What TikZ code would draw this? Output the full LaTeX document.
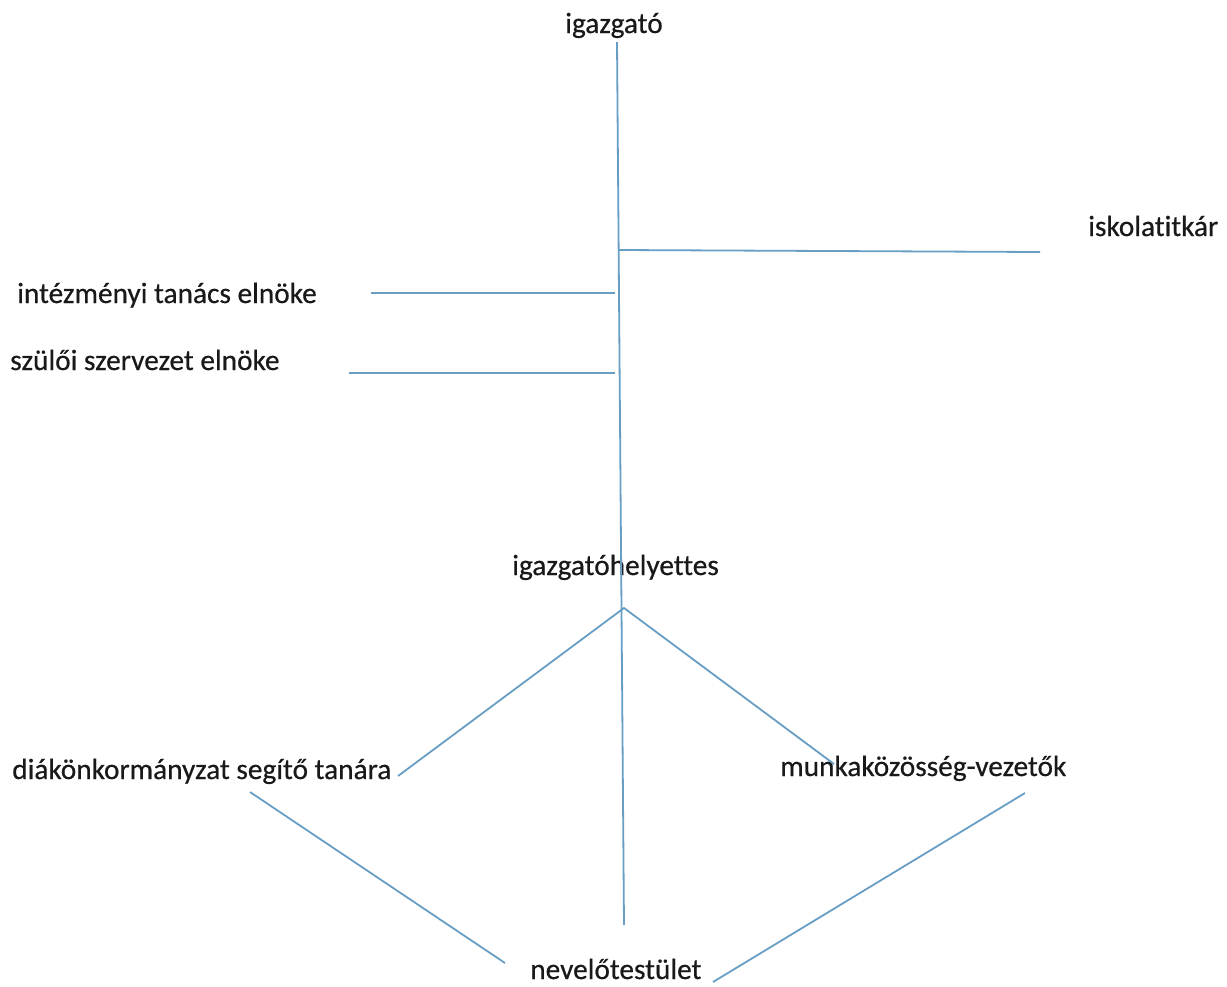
\documentclass[tikz,border=0pt]{standalone}
\usepackage{fontspec}
\setmainfont{Carlito}[Ligatures=NoCommon,FakeBold=0.5]
\definecolor{orgline}{RGB}{104,158,196}
\begin{document}
\begin{tikzpicture}[x=0.75pt,y=-0.75pt,
        role/.style={font=\fontsize{22}{26}\selectfont, text=black!90, inner sep=0pt},
        link/.style={draw=orgline, line width=1.35pt}]
            \useasboundingbox (0,0) rectangle (1227,986);
            % names
            \node[role, anchor=base west] (igazgato) at (565,33) {igazgató};
            \node[role, anchor=base west] (titkar) at (1088,236) {iskolatitkár};
            \node[role, anchor=base west] (tanacs) at (17,303) {intézményi tanács elnöke};
            \node[role, anchor=base west] (szuloi) at (10,370) {szülői szervezet elnöke};
            \node[role, anchor=base west] (helyettes) at (512,575) {igazgatóhelyettes};
            \node[role, anchor=base west] (diak) at (12,779) {diákönkormányzat segítő tanára};
            \node[role, anchor=base west] (munka) at (780,776) {munkaközösség-vezetők};
            \node[role, anchor=base west] (nevelo) at (530,979) {nevelőtestület};
            % line ends
            \coordinate (top) at (617,42);
            \coordinate (bottom) at (624,925);
            \coordinate (tit a) at (619,250);
            \coordinate (tit b) at (1040,252);
            \coordinate (tan a) at (615,293);
            \coordinate (tan b) at (371,293);
            \coordinate (szu a) at (615,373);
            \coordinate (szu b) at (349,373);
            \coordinate (fork) at (624,608);
            \coordinate (diak end) at (398,776);
            \coordinate (munka end) at (834,764);
            \coordinate (diak low) at (250,792);
            \coordinate (nev left) at (505,963);
            \coordinate (munka low) at (1025,793);
            \coordinate (nev right) at (713,982);
            % connectors
            \draw[link] (top) -- (bottom);
            \draw[link] (tit a) -- (tit b);
            \draw[link] (tan a) -- (tan b);
            \draw[link] (szu a) -- (szu b);
            \draw[link] (diak end) -- (fork) -- (munka end);
            \draw[link] (diak low) -- (nev left);
            \draw[link] (munka low) -- (nev right);
        \end{tikzpicture}
\end{document}
